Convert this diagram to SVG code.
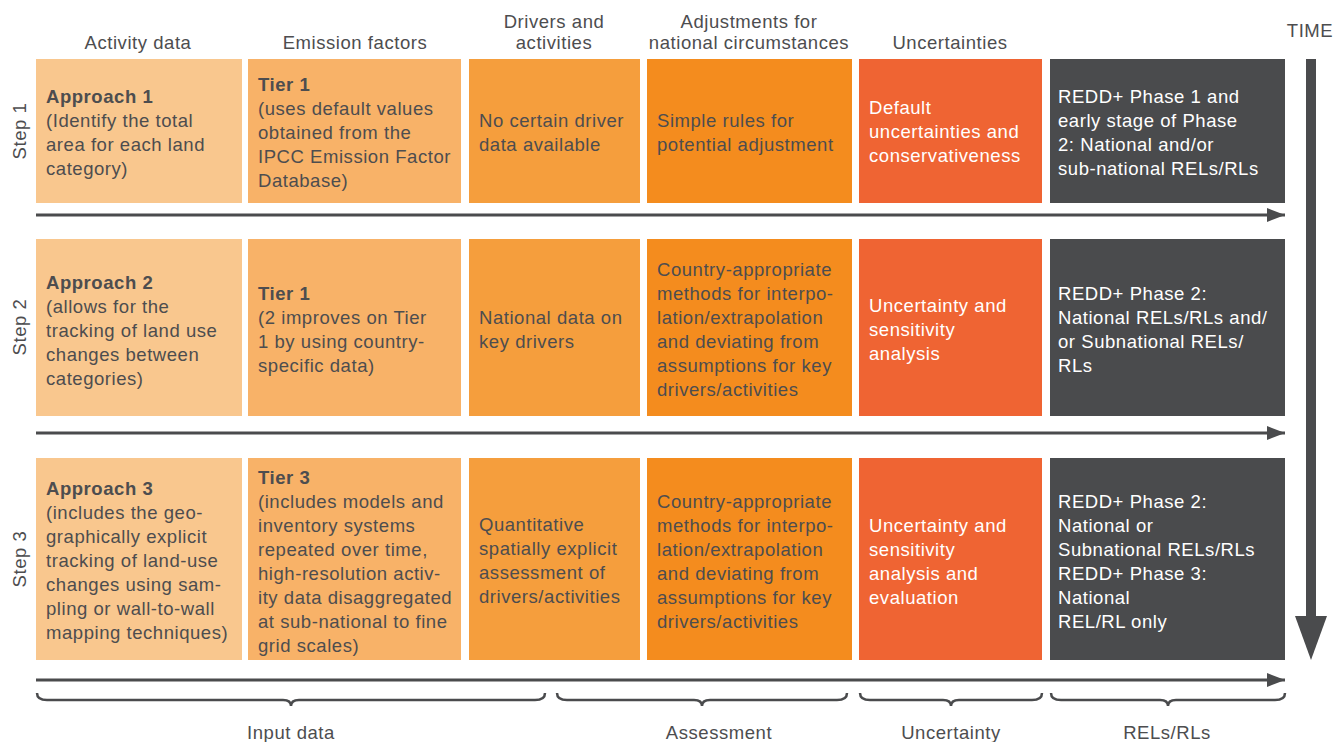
<svg xmlns="http://www.w3.org/2000/svg" width="1335" height="742" viewBox="0 0 1335 742">
<style>
text{font-family:"Liberation Sans","DejaVu Sans",sans-serif;font-size:18.5px;letter-spacing:0.55px;fill:#4D4D4F}
.h{text-anchor:middle}
.w{fill:#FFFFFF}
.b{font-weight:bold}
.c1{fill:#F9C78E}.c2{fill:#F8B268}.c3{fill:#F59E3D}.c4{fill:#F48C1E}.c5{fill:#EF6433}.c6{fill:#4A4B4D}
.ar{stroke:#4A4B4D;stroke-width:3;fill:none}
.br{stroke:#4A4B4D;stroke-width:2.5;fill:none;stroke-linecap:butt}
</style>
<defs>
<marker id="ah" viewBox="0 0 18 14" refX="18" refY="7" markerWidth="18" markerHeight="14" markerUnits="userSpaceOnUse" orient="auto"><path d="M0,0 L18,7 L0,14 Z" fill="#4A4B4D"/></marker>
</defs>
<g id="headers">
<text class="h" x="138" y="49">Activity data</text>
<text class="h" x="355" y="49">Emission factors</text>
<text class="h" x="554" y="28">Drivers and</text>
<text class="h" x="554" y="49">activities</text>
<text class="h" x="749" y="28">Adjustments for</text>
<text class="h" x="749" y="49">national circumstances</text>
<text class="h" x="950" y="49">Uncertainties</text>
<text class="h" x="1310" y="37">TIME</text>
</g>
<g id="steps">
<text class="h" transform="translate(26,131) rotate(-90)">Step 1</text>
<text class="h" transform="translate(26,327) rotate(-90)">Step 2</text>
<text class="h" transform="translate(26,559) rotate(-90)">Step 3</text>
</g>
<g id="r1c1"><rect class="c1" x="36" y="59" width="206" height="144"/>
<text x="46" y="103"><tspan class="b">Approach 1</tspan><tspan x="46" dy="24">(Identify the total</tspan><tspan x="46" dy="24">area for each land</tspan><tspan x="46" dy="24">category)</tspan></text></g>
<g id="r1c2"><rect class="c2" x="248" y="59" width="213" height="144"/>
<text x="258" y="91"><tspan class="b">Tier 1</tspan><tspan x="258" dy="24">(uses default values</tspan><tspan x="258" dy="24">obtained from the</tspan><tspan x="258" dy="24">IPCC Emission Factor</tspan><tspan x="258" dy="24">Database)</tspan></text></g>
<g id="r1c3"><rect class="c3" x="469" y="59" width="171" height="144"/>
<text x="479" y="127"><tspan>No certain driver</tspan><tspan x="479" dy="24">data available</tspan></text></g>
<g id="r1c4"><rect class="c4" x="647" y="59" width="205" height="144"/>
<text x="657" y="127"><tspan>Simple rules for</tspan><tspan x="657" dy="24">potential adjustment</tspan></text></g>
<g id="r1c5"><rect class="c5" x="859" y="59" width="183" height="144"/>
<text class="w" x="869" y="114"><tspan>Default</tspan><tspan x="869" dy="24">uncertainties and</tspan><tspan x="869" dy="24">conservativeness</tspan></text></g>
<g id="r1c6"><rect class="c6" x="1050" y="59" width="235" height="144"/>
<text class="w" x="1058" y="103"><tspan>REDD+ Phase 1 and</tspan><tspan x="1058" dy="24">early stage of Phase</tspan><tspan x="1058" dy="24">2: National and/or</tspan><tspan x="1058" dy="24">sub-national RELs/RLs</tspan></text></g>

<g id="r2c1"><rect class="c1" x="36" y="239" width="206" height="177"/>
<text x="46" y="289"><tspan class="b">Approach 2</tspan><tspan x="46" dy="24">(allows for the</tspan><tspan x="46" dy="24">tracking of land use</tspan><tspan x="46" dy="24">changes between</tspan><tspan x="46" dy="24">categories)</tspan></text></g>
<g id="r2c2"><rect class="c2" x="248" y="239" width="213" height="177"/>
<text x="258" y="300"><tspan class="b">Tier 1</tspan><tspan x="258" dy="24">(2 improves on Tier</tspan><tspan x="258" dy="24">1 by using country-</tspan><tspan x="258" dy="24">specific data)</tspan></text></g>
<g id="r2c3"><rect class="c3" x="469" y="239" width="171" height="177"/>
<text x="479" y="324"><tspan>National data on</tspan><tspan x="479" dy="24">key drivers</tspan></text></g>
<g id="r2c4"><rect class="c4" x="647" y="239" width="205" height="177"/>
<text x="657" y="276"><tspan>Country-appropriate</tspan><tspan x="657" dy="24">methods for interpo-</tspan><tspan x="657" dy="24">lation/extrapolation</tspan><tspan x="657" dy="24">and deviating from</tspan><tspan x="657" dy="24">assumptions for key</tspan><tspan x="657" dy="24">drivers/activities</tspan></text></g>
<g id="r2c5"><rect class="c5" x="859" y="239" width="183" height="177"/>
<text class="w" x="869" y="312"><tspan>Uncertainty and</tspan><tspan x="869" dy="24">sensitivity</tspan><tspan x="869" dy="24">analysis</tspan></text></g>
<g id="r2c6"><rect class="c6" x="1050" y="239" width="235" height="177"/>
<text class="w" x="1058" y="300"><tspan>REDD+ Phase 2:</tspan><tspan x="1058" dy="24">National RELs/RLs and/</tspan><tspan x="1058" dy="24">or Subnational RELs/</tspan><tspan x="1058" dy="24">RLs</tspan></text></g>

<g id="r3c1"><rect class="c1" x="36" y="458" width="206" height="202"/>
<text x="46" y="495"><tspan class="b">Approach 3</tspan><tspan x="46" dy="24">(includes the geo-</tspan><tspan x="46" dy="24">graphically explicit</tspan><tspan x="46" dy="24">tracking of land-use</tspan><tspan x="46" dy="24">changes using sam-</tspan><tspan x="46" dy="24">pling or wall-to-wall</tspan><tspan x="46" dy="24">mapping techniques)</tspan></text></g>
<g id="r3c2"><rect class="c2" x="248" y="458" width="213" height="202"/>
<text x="258" y="484"><tspan class="b">Tier 3</tspan><tspan x="258" dy="24">(includes models and</tspan><tspan x="258" dy="24">inventory systems</tspan><tspan x="258" dy="24">repeated over time,</tspan><tspan x="258" dy="24">high-resolution activ-</tspan><tspan x="258" dy="24">ity data disaggregated</tspan><tspan x="258" dy="24">at sub-national to fine</tspan><tspan x="258" dy="24">grid scales)</tspan></text></g>
<g id="r3c3"><rect class="c3" x="469" y="458" width="171" height="202"/>
<text x="479" y="531"><tspan>Quantitative</tspan><tspan x="479" dy="24">spatially explicit</tspan><tspan x="479" dy="24">assessment of</tspan><tspan x="479" dy="24">drivers/activities</tspan></text></g>
<g id="r3c4"><rect class="c4" x="647" y="458" width="205" height="202"/>
<text x="657" y="508"><tspan>Country-appropriate</tspan><tspan x="657" dy="24">methods for interpo-</tspan><tspan x="657" dy="24">lation/extrapolation</tspan><tspan x="657" dy="24">and deviating from</tspan><tspan x="657" dy="24">assumptions for key</tspan><tspan x="657" dy="24">drivers/activities</tspan></text></g>
<g id="r3c5"><rect class="c5" x="859" y="458" width="183" height="202"/>
<text class="w" x="869" y="532"><tspan>Uncertainty and</tspan><tspan x="869" dy="24">sensitivity</tspan><tspan x="869" dy="24">analysis and</tspan><tspan x="869" dy="24">evaluation</tspan></text></g>
<g id="r3c6"><rect class="c6" x="1050" y="458" width="235" height="202"/>
<text class="w" x="1058" y="508"><tspan>REDD+ Phase 2:</tspan><tspan x="1058" dy="24">National or</tspan><tspan x="1058" dy="24">Subnational RELs/RLs</tspan><tspan x="1058" dy="24">REDD+ Phase 3:</tspan><tspan x="1058" dy="24">National</tspan><tspan x="1058" dy="24">REL/RL only</tspan></text></g>

<g id="connectors">
<line class="ar" x1="36" y1="215" x2="1285" y2="215" marker-end="url(#ah)"/>
<line class="ar" x1="36" y1="433" x2="1285" y2="433" marker-end="url(#ah)"/>
<line class="ar" x1="36" y1="680" x2="1285" y2="680" marker-end="url(#ah)"/>
<rect x="1306" y="59" width="10" height="558" fill="#4A4B4D"/>
<path d="M1295,616 L1327,616 L1311,660 Z" fill="#4A4B4D"/>
</g>
<g id="braces">
<path class="br" d="M37,693 Q37,700 47,700 L283,700 Q291,700 291,706 Q291,700 299,700 L535,700 Q545,700 545,693"/>
<path class="br" d="M557,693 Q557,700 567,700 L694,700 Q702,700 702,706 Q702,700 710,700 L837,700 Q847,700 847,693"/>
<path class="br" d="M860,693 Q860,700 870,700 L943,700 Q951,700 951,706 Q951,700 959,700 L1032,700 Q1042,700 1042,693"/>
<path class="br" d="M1051,693 Q1051,700 1061,700 L1160,700 Q1168,700 1168,706 Q1168,700 1176,700 L1275,700 Q1285,700 1285,693"/>
</g>
<g id="labels">
<text class="h" x="291" y="739">Input data</text>
<text class="h" x="719" y="739">Assessment</text>
<text class="h" x="951" y="739">Uncertainty</text>
<text class="h" x="1167" y="739">RELs/RLs</text>
</g>
</svg>
